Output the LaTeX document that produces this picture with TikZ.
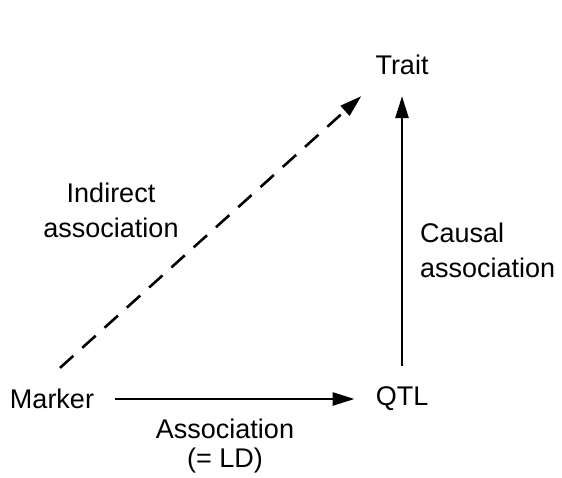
\documentclass[tikz,border=0pt]{standalone}
\usepackage{fontspec}
\setmainfont{Liberation Sans}
\usepackage{tikz}
\usetikzlibrary{arrows.meta,positioning}

\begin{document}
\begin{tikzpicture}[
    x=1pt, y=-1pt,
    font=\fontsize{27}{35}\selectfont,
    term/.style={inner sep=21pt},
    lbl/.style={inner sep=0pt, anchor=north},
    arrow/.style={-{Triangle[length=22pt, width=13pt]}, line width=2.6pt},
    link/.style={arrow, dash pattern=on 18pt off 12pt}
  ]
    \useasboundingbox (0,0) rectangle (562,477);
    \node[term] (trait) at (402,65) {Trait};
    \node[term] (marker) at (52,399) {Marker};
    \node[term] (qtl) at (402,399) {QTL};
    \node[lbl, align=center] (ind) at (111,183) {Indirect\\association};
    \node[lbl, anchor=north west, align=left] (cau) at (420,223) {Causal\\association};
    \node[lbl, align=center] (ld) at (225,419) {Association\\[-6pt](= LD)};
    \draw[arrow] (marker) -- (qtl);
    \draw[arrow] (qtl.north) -- (trait.south);
    \draw[link] ([xshift=8pt]marker.north) -- ([xshift=7pt]trait.south west);
  \end{tikzpicture}
\end{document}
